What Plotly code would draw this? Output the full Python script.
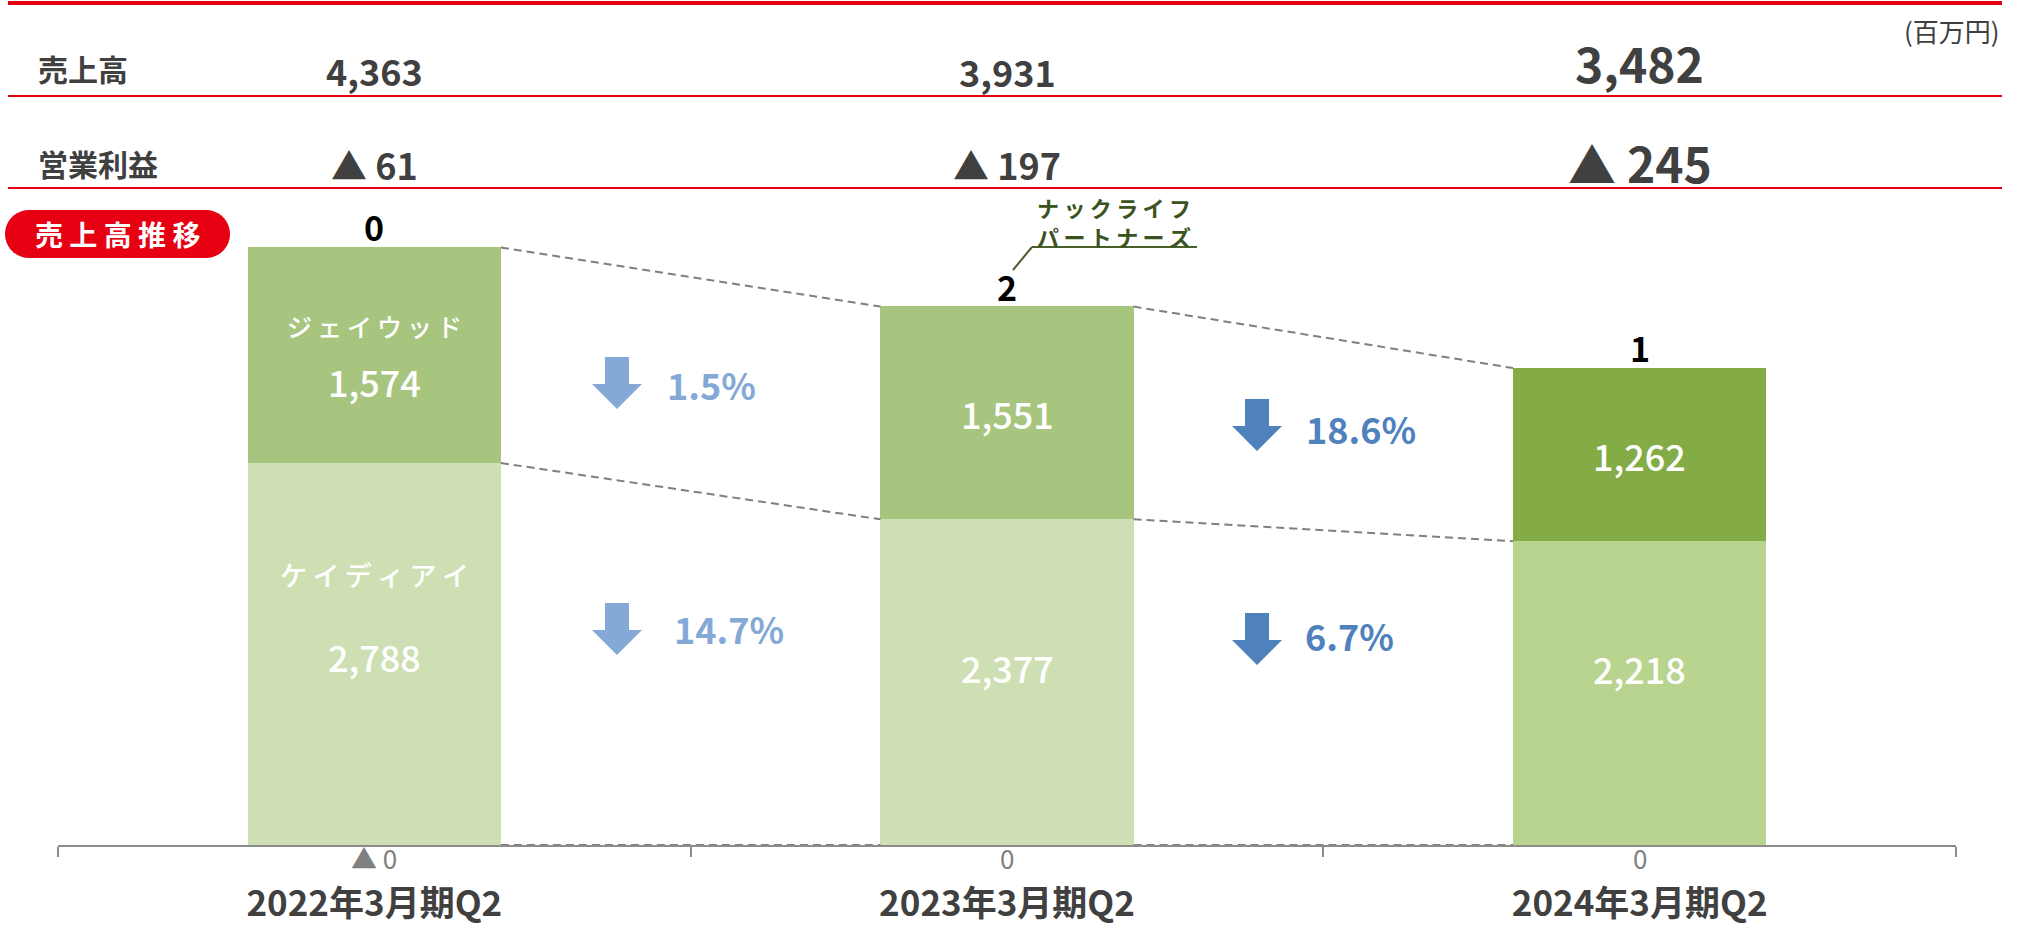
import math
import plotly.graph_objects as go

# ---------------- data ----------------
categories = ["2022年3月期Q2", "2023年3月期Q2", "2024年3月期Q2"]
kdi = [2788, 2377, 2218]          # ケイディアイ
jwood = [1574, 1551, 1262]        # ジェイウッド
nack = [0, 2, 1]                  # ナックライフパートナーズ
other_labels = ["▲ 0", "0", "0"]  # 調整額
sales = [4363, 3931, 3482]        # 売上高
op_profit = [-61, -197, -245]     # 営業利益

# ---------------- geometry helpers ----------------
W, H = 2022, 925
L, R, T, B = 58, 66, 190, 80
PW, PH = W - L - R, H - T - B
YMAX = PH / 0.137

def px(X):
    return (X - L) / PW

def py(Y):
    return (H - B - Y) / PH

FONT = "Noto Sans CJK JP, Noto Sans, sans-serif"
DARK = "#404040"
RED = "#E60012"
LIGHT_BLUE = "#84A9D6"
DARK_BLUE = "#4F81BD"
TS = "\u2009"

top_colors = ["#A7C57F", "#A7C57F", "#83AC46"]
bot_colors = ["#CEE0B3", "#CEE0B3", "#B8D48F"]

xs = list(range(len(categories)))
BW = 0.4

fig = go.Figure()
fig.add_trace(go.Bar(x=xs, y=kdi, width=BW, marker=dict(color=bot_colors, line=dict(width=0)),
                     name="ケイディアイ", hoverinfo="skip"))
fig.add_trace(go.Bar(x=xs, y=jwood, width=BW, marker=dict(color=top_colors, line=dict(width=0)),
                     name="ジェイウッド", hoverinfo="skip"))
fig.add_trace(go.Bar(x=xs, y=nack, width=BW, marker=dict(color=top_colors, line=dict(width=0)),
                     name="ナックライフパートナーズ", hoverinfo="skip"))

totals = [a + b + c for a, b, c in zip(kdi, jwood, nack)]

# dashed connectors between bars
lx, ly = [], []
for i in range(len(xs) - 1):
    for y0, y1 in ((0, 0), (kdi[i], kdi[i + 1]), (totals[i], totals[i + 1])):
        lx += [xs[i] + BW / 2, xs[i + 1] - BW / 2, None]
        ly += [y0, y1, None]
fig.add_trace(go.Scatter(x=lx, y=ly, mode="lines", line=dict(color="#7F7F7F", width=2, dash="8px,5px"),
                         hoverinfo="skip", cliponaxis=False))

shapes = []
ann = []

# red header lines
for yy, w in ((3, 4), (96, 2), (188, 2)):
    shapes.append(dict(type="line", xref="paper", yref="paper", x0=px(8), x1=px(2002), y0=py(yy), y1=py(yy),
                       line=dict(color=RED, width=w)))

def fmt(v):
    return f"{v:,}"

def fmt_pl(v):
    return f"▲ {abs(v):,}" if v < 0 else f"{v:,}"

ann.append(dict(text="売上高", x=px(36), y=py(68), xanchor="left", yanchor="middle",
                font=dict(size=30, color=DARK, weight=700)))
ann.append(dict(text="営業利益", x=px(36), y=py(163), xanchor="left", yanchor="middle",
                font=dict(size=30, color=DARK, weight=700)))
ann.append(dict(text="(百万円)", x=px(2002), y=py(30), xanchor="right", yanchor="middle",
                font=dict(size=26, color=DARK)))
head_sizes = [36, 36, 48]
sales_y = [70, 71, 62]
pl_y = [164, 164, 162]
for i, x in enumerate(xs):
    ann.append(dict(text=fmt(sales[i]), x=x, xref="x", y=py(sales_y[i]), xanchor="center", yanchor="middle",
                    font=dict(size=head_sizes[i], color=DARK, weight=700)))
    ann.append(dict(text=fmt_pl(op_profit[i]), x=x, xref="x", y=py(pl_y[i]), xanchor="center", yanchor="middle",
                    font=dict(size=head_sizes[i], color=DARK, weight=700)))

# pill label
x0p, x1p, y0p, y1p = 5, 230, 210, 258
r = (y1p - y0p) / 2
pts = []
for k in range(0, 19):
    a = math.pi / 2 + math.pi * k / 18
    pts.append((x0p + r + r * math.cos(a), y0p + r - r * math.sin(a)))
for k in range(0, 19):
    a = -math.pi / 2 + math.pi * k / 18
    pts.append((x1p - r + r * math.cos(a), y0p + r - r * math.sin(a)))
path = "M " + " L ".join(f"{px(a):.5f},{py(b):.5f}" for a, b in pts) + " Z"
shapes.append(dict(type="path", xref="paper", yref="paper", path=path, fillcolor=RED, line=dict(width=0)))
ann.append(dict(text="売 上 高 推 移", x=px(117), y=py(234), xanchor="center", yanchor="middle",
                font=dict(size=28, color="white", weight=700)))

# bar labels
for i, x in enumerate(xs):
    ann.append(dict(text=str(nack[i]), x=x, xref="x", y=totals[i], yref="y", yanchor="bottom", yshift=-6,
                    font=dict(size=34, color="black", weight=700)))
    ann.append(dict(text=other_labels[i], x=x, xref="x", y=py(857), xanchor="center", yanchor="middle",
                    font=dict(size=26, color="#808080")))

jw_shift = [-26, 0, 0]
kdi_shift = [-2, 15, 25]
for i, x in enumerate(xs):
    ann.append(dict(text=fmt(jwood[i]), x=x, xref="x", y=kdi[i] + jwood[i] / 2, yref="y", yshift=jw_shift[i],
                    font=dict(size=36, color="white", weight=500)))
    ann.append(dict(text=fmt(kdi[i]), x=x, xref="x", y=kdi[i] / 2, yref="y", yshift=kdi_shift[i],
                    font=dict(size=36, color="white", weight=500)))
ann.append(dict(text=TS.join("ジェイウッド"), x=0, xref="x", y=kdi[0] + jwood[0] / 2, yref="y", yshift=29,
                font=dict(size=25, color="white", weight=500)))
ann.append(dict(text=TS.join("ケイディアイ"), x=0, xref="x", y=kdi[0] / 2, yref="y", yshift=80,
                font=dict(size=27, color="white", weight=500)))

# callout for ナックライフパートナーズ
OLIVE = "#3B5320"
ann.append(dict(text=TS.join("ナックライフ") + "<br>" + TS.join("パートナーズ"), x=px(1114), y=py(221),
                xanchor="center", yanchor="middle",
                font=dict(size=22, color=OLIVE, weight=700)))
shapes.append(dict(type="line", xref="paper", yref="paper", x0=px(1032), x1=px(1197), y0=py(247), y1=py(247),
                   line=dict(color="#4A5E2A", width=2)))
shapes.append(dict(type="line", xref="paper", yref="paper", x0=px(1032), x1=px(1013), y0=py(247), y1=py(270),
                   line=dict(color="#4A5E2A", width=2)))

# change arrows
def pct(a, b):
    return f"{abs(b - a) / a * 100:.1f}%"

arrows = [
    (617, 357, LIGHT_BLUE, pct(jwood[0], jwood[1]), 665, 384),
    (617, 603, LIGHT_BLUE, pct(kdi[0], kdi[1]), 672, 628),
    (1257, 399, DARK_BLUE, pct(jwood[1], jwood[2]), 1304, 428),
    (1257, 613, DARK_BLUE, pct(kdi[1], kdi[2]), 1303, 635),
]
for cx, top, col, txt, tx, ty in arrows:
    p = [(cx - 12, top), (cx + 12, top), (cx + 12, top + 27), (cx + 25, top + 27), (cx, top + 52),
         (cx - 25, top + 27), (cx - 12, top + 27)]
    path = "M " + " L ".join(f"{px(a):.5f},{py(b):.5f}" for a, b in p) + " Z"
    shapes.append(dict(type="path", xref="paper", yref="paper", path=path, fillcolor=col, line=dict(width=0)))
    ann.append(dict(text=txt, x=px(tx), y=py(ty), xanchor="left", yanchor="middle",
                    font=dict(size=36, color=col, weight=700)))

for a in ann:
    a.setdefault("xref", "paper")
    a.setdefault("yref", "paper")
    a.setdefault("showarrow", False)

fig.update_layout(
    width=W, height=H,
    margin=dict(l=L, r=R, t=T, b=B, pad=0, autoexpand=False),
    barmode="stack", bargap=0,
    plot_bgcolor="white", paper_bgcolor="white",
    showlegend=False,
    font=dict(family=FONT, color=DARK),
    shapes=shapes, annotations=ann,
    xaxis=dict(range=[-0.5, 2.5], tickmode="array", tickvals=xs, ticktext=categories,
               showline=True, linecolor="#8C8C8C", linewidth=2, showgrid=False, zeroline=False,
               ticks="", ticklabelstandoff=27, automargin=False,
               tickfont=dict(size=35, color=DARK, weight=700, family=FONT),
               minor=dict(tickmode="array", tickvals=[-0.5, 0.5, 1.5, 2.5], ticks="outside", ticklen=10,
                          tickcolor="#8C8C8C", tickwidth=2),
               fixedrange=True),
    yaxis=dict(range=[0, YMAX], visible=False, showgrid=False, zeroline=False, fixedrange=True,
               automargin=False),
)

fig.write_html("out.html", config={"displayModeBar": False},
               post_script="document.body.style.margin='0';document.body.style.overflow='hidden';")
